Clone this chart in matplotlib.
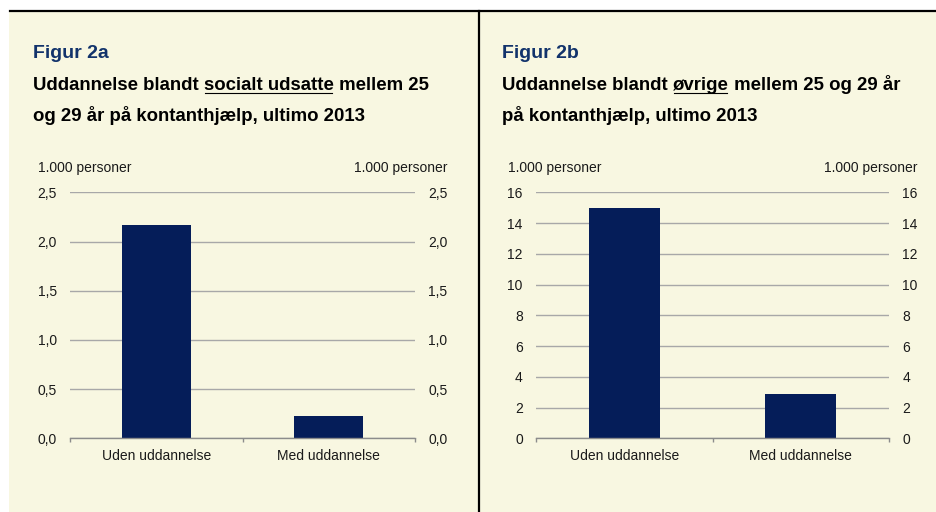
import matplotlib
matplotlib.use("Agg")
import matplotlib.pyplot as plt
from matplotlib.patches import Rectangle
from matplotlib.lines import Line2D
from matplotlib.ticker import FuncFormatter, MultipleLocator

plt.rcParams["font.family"] = ["Liberation Sans", "DejaVu Sans"]

categories = ["Uden uddannelse", "Med uddannelse"]
values_a = [2.17, 0.23]
values_b = [15.0, 2.9]
unit_label = "1.000 personer"

W, H = 936, 512
CREAM = "#F8F7E1"
NAVY = "#051D59"
TITLE_BLUE = "#12336B"
GRID = "#A8A8A8"
AXIS = "#8C8C8C"

fig = plt.figure(figsize=(W / 100, H / 100), dpi=100, facecolor="white")


def fx(px):
    return px / W


def fy(py):
    return 1 - py / H


# background panel, top rule and divider
fig.patches.append(Rectangle((fx(9), 0), 1 - fx(9), fy(11), transform=fig.transFigure,
                             facecolor=CREAM, edgecolor="none", zorder=-5))
fig.lines.append(Line2D([fx(10), 1], [fy(11), fy(11)], transform=fig.transFigure,
                        color="black", linewidth=1.6))
fig.lines.append(Line2D([fx(479), fx(479)], [fy(11), 0], transform=fig.transFigure,
                        color="black", linewidth=1.6))

renderer = fig.canvas.get_renderer()


def title_line(x, y, parts):
    # parts: list of (text, underlined)
    for text, underline in parts:
        t = fig.text(fx(x), fy(y), text, fontsize=13.4, fontweight="bold",
                     ha="left", va="baseline")
        bb = t.get_window_extent(renderer)
        if underline:
            fig.lines.append(Line2D([fx(x + 1), fx(x + bb.width - 2)], [fy(y + 3), fy(y + 3)],
                                    transform=fig.transFigure, color="black", linewidth=0.8))
        x += bb.width


def panel(x0, x1, tx, ux_left, ux_right, fig_label, title1, title2, values, ymax, step, fmt):
    fig.text(fx(tx), fy(58), fig_label, fontsize=14, fontweight="bold",
             color=TITLE_BLUE, ha="left", va="baseline")
    title_line(tx, 90, title1)
    title_line(tx, 121, title2)

    ax = fig.add_axes([fx(x0), fy(438.3), fx(x1 - x0), (438.3 - 192.3) / H])
    ax.set_facecolor("none")
    ax.bar(range(len(categories)), values, width=0.4, color=NAVY, zorder=3)
    ax.set_xlim(-0.5, len(categories) - 0.5)
    ax.set_ylim(0, ymax)
    ax.yaxis.set_major_locator(MultipleLocator(step))
    ax.yaxis.set_major_formatter(FuncFormatter(fmt))
    ax.grid(axis="y", color=GRID, linewidth=1.0, zorder=1)
    for s in ("top", "left", "right"):
        ax.spines[s].set_visible(False)
    ax.spines["bottom"].set_color(AXIS)
    ax.spines["bottom"].set_linewidth(1.0)
    ax.spines["bottom"].set_zorder(4)

    ax.set_xticks([-0.5, 0.5, 1.5])
    ax.set_xticklabels([])
    ax.set_xticks([0, 1], minor=True)
    ax.set_xticklabels(categories, minor=True)
    ax.tick_params(axis="x", which="major", length=3, color=AXIS, width=1)
    ax.tick_params(axis="x", which="minor", length=0, pad=8, labelsize=10, labelcolor="#1a1a1a")
    ax.tick_params(axis="y", left=False, right=False, labelleft=True, labelright=True,
                   length=0, pad=9.5, labelsize=10, labelcolor="#1a1a1a")

    fig.text(fx(ux_left), fy(168), unit_label, fontsize=10, color="#1a1a1a",
             ha="left", va="center")
    fig.text(fx(ux_right), fy(168), unit_label, fontsize=10, color="#1a1a1a",
             ha="right", va="center")
    return ax


panel(70, 415, 33, 38, 447, "Figur 2a",
      [("Uddannelse blandt ", False), ("socialt udsatte", True), (" mellem 25", False)],
      [("og 29 år på kontanthjælp, ultimo 2013", False)],
      values_a, 2.5, 0.5, lambda v, _: f"{v:.1f}".replace(".", ","))

panel(536, 889, 502, 508, 917, "Figur 2b",
      [("Uddannelse blandt ", False), ("øvrige", True), (" mellem 25 og 29 år", False)],
      [("på kontanthjælp, ultimo 2013", False)],
      values_b, 16, 2, lambda v, _: f"{v:.0f}")

fig.savefig("out.png", dpi=100, facecolor="white")
